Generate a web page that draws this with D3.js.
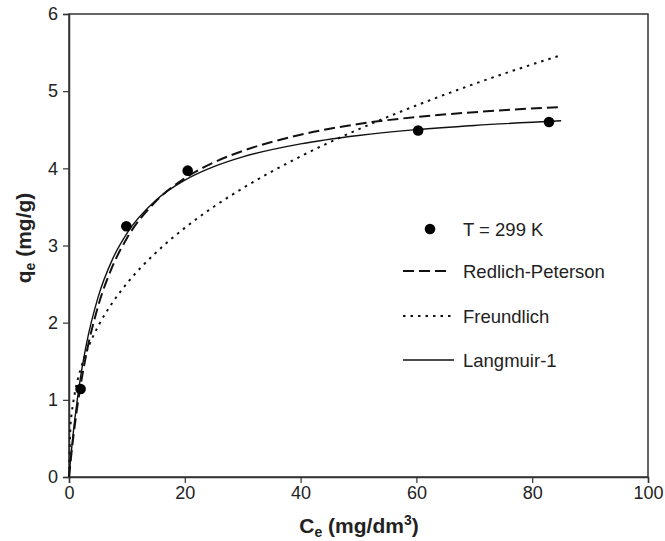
<!DOCTYPE html>
<html><head><meta charset="utf-8">
<script src="https://cdn.jsdelivr.net/npm/d3@7"></script>
<style>body{margin:0;background:#fff}svg{font-family:Arial,"Liberation Sans",sans-serif}</style>
</head><body><svg id="c" width="665" height="541"></svg>
<script>
const ptC = [2, 9.9, 20.5, 60.3, 82.9];
const ptQ = [1.14, 3.25, 3.97, 4.49, 4.60];
const curveC = [0, 0.25, 0.5, 1, 2, 3, 5, 7.5, 10, 15, 20, 25, 30, 40, 50, 60, 70, 85];
const langmuirQ = [0, 0.208, 0.404, 0.747, 1.297, 1.719, 2.324, 2.820, 3.157, 3.585, 3.846, 4.021, 4.148, 4.317, 4.426, 4.501, 4.556, 4.617];
const redlichQ  = [0, 0.184, 0.359, 0.670, 1.187, 1.597, 2.207, 2.728, 3.094, 3.572, 3.871, 4.076, 4.225, 4.435, 4.575, 4.665, 4.728, 4.795];
const freundQ   = [0, 0.657, 0.843, 1.085, 1.396, 1.618, 1.949, 2.259, 2.509, 2.907, 3.228, 3.502, 3.742, 4.155, 4.506, 4.815, 5.094, 5.467];
const xTicks = [0, 20, 40, 60, 80, 100];
const yTicks = [0, 1, 2, 3, 4, 5, 6];
const legendLabels = ["T = 299 K", "Redlich-Peterson", "Freundlich", "Langmuir-1"];

const svg = d3.select("#c");
const L = 69, R = 648, T = 14, B = 477;
const x = d3.scaleLinear().domain([0, 100]).range([L, R]);
const y = d3.scaleLinear().domain([0, 6]).range([B, T]);

svg.append("rect").attr("x", L).attr("y", T).attr("width", R - L).attr("height", B - T)
  .attr("fill", "none").attr("stroke", "#333").attr("stroke-width", 1.5);

const xa = svg.append("g").attr("transform", `translate(0,${B})`)
  .call(d3.axisBottom(x).tickValues(xTicks).tickSize(6).tickPadding(3).tickFormat(d3.format("d")));
const ya = svg.append("g").attr("transform", `translate(${L},0)`)
  .call(d3.axisLeft(y).tickValues(yTicks).tickSize(6).tickPadding(5).tickFormat(d3.format("d")));
[xa, ya].forEach(a => {
  a.select(".domain").attr("stroke", "#333").attr("stroke-width", 1.5);
  a.selectAll(".tick line").attr("stroke", "#333").attr("stroke-width", 1.2);
  a.selectAll(".tick text").attr("font-size", 18).attr("fill", "#222").attr("font-family", "Arial, 'Liberation Sans', sans-serif");
});

const line = (arr) => d3.line().x((d, i) => x(curveC[i])).y(d => y(d)).curve(d3.curveMonotoneX)(arr);
const g = svg.append("g");
g.append("path").attr("d", line(freundQ)).attr("fill", "none").attr("stroke", "#111")
  .attr("stroke-width", 2).attr("stroke-dasharray", "2.5,5");
g.append("path").attr("d", line(redlichQ)).attr("fill", "none").attr("stroke", "#111")
  .attr("stroke-width", 2).attr("stroke-dasharray", "11,5");
g.append("path").attr("d", line(langmuirQ)).attr("fill", "none").attr("stroke", "#111")
  .attr("stroke-width", 1.4);

svg.append("g").selectAll("circle").data(ptC).join("circle")
  .attr("cx", d => x(d)).attr("cy", (d, i) => y(ptQ[i])).attr("r", 5.3).attr("fill", "#000");

const lg = svg.append("g").attr("font-size", 18.5).attr("fill", "#222");
const ly = [229, 271, 316, 360];
lg.append("circle").attr("cx", 430).attr("cy", ly[0]).attr("r", 5.3).attr("fill", "#000");
lg.append("line").attr("x1", 403).attr("x2", 451).attr("y1", ly[1]).attr("y2", ly[1])
  .attr("stroke", "#111").attr("stroke-width", 2).attr("stroke-dasharray", "11,5");
lg.append("line").attr("x1", 403).attr("x2", 452).attr("y1", ly[2]).attr("y2", ly[2])
  .attr("stroke", "#111").attr("stroke-width", 2).attr("stroke-dasharray", "2.5,5");
lg.append("line").attr("x1", 403).attr("x2", 454).attr("y1", ly[3]).attr("y2", ly[3])
  .attr("stroke", "#111").attr("stroke-width", 1.4);
legendLabels.forEach((t, i) => {
  lg.append("text").attr("x", 463).attr("y", ly[i]).attr("dy", "0.36em").text(t);
});

svg.append("text").attr("transform", `translate(31,${238}) rotate(-90)`)
  .attr("text-anchor", "middle").attr("font-size", 21).attr("font-weight", "bold").attr("fill", "#222")
  .call(t => { t.append("tspan").text("q");
    t.append("tspan").attr("font-size", 14).attr("dy", 4).text("e");
    t.append("tspan").attr("dy", -4).text(" (mg/g)"); });
svg.append("text").attr("x", 359).attr("y", 533)
  .attr("text-anchor", "middle").attr("font-size", 21).attr("font-weight", "bold").attr("fill", "#222")
  .call(t => { t.append("tspan").text("C");
    t.append("tspan").attr("font-size", 14).attr("dy", 4).text("e");
    t.append("tspan").attr("dy", -4).text(" (mg/dm");
    t.append("tspan").attr("font-size", 14).attr("dy", -8).text("3");
    t.append("tspan").attr("dy", 8).text(")"); });
</script></body></html>
